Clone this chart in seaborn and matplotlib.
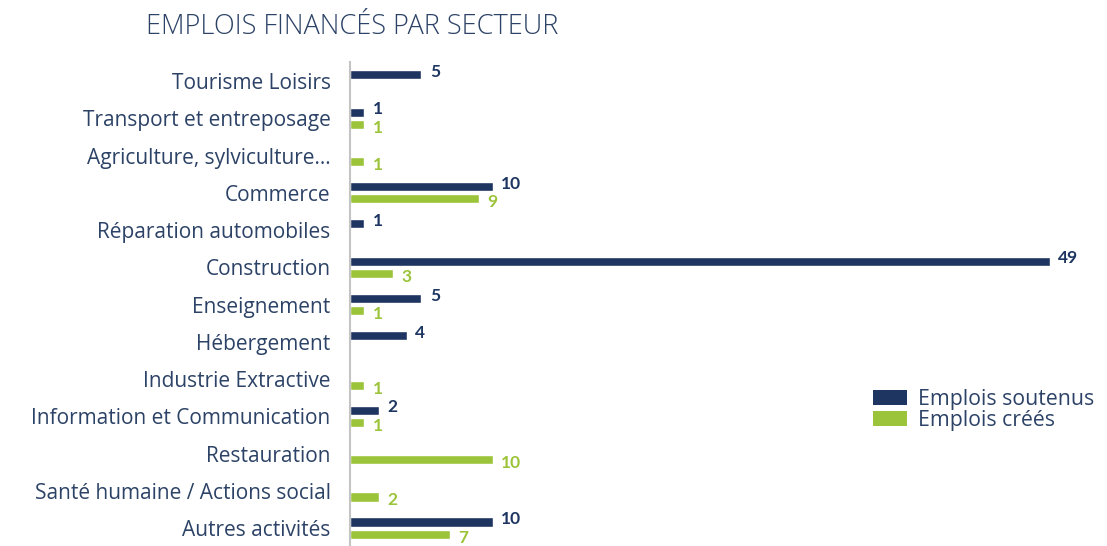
import numpy as np
import pandas as pd
import matplotlib
matplotlib.use("Agg")
import matplotlib.pyplot as plt
import seaborn as sns

categories = ["Tourisme Loisirs", "Transport et entreposage", "Agriculture, sylviculture...",
              "Commerce", "Réparation automobiles", "Construction", "Enseignement",
              "Hébergement", "Industrie Extractive", "Information et Communication",
              "Restauration", "Santé humaine / Actions social", "Autres activités"]
soutenus = [5, 1, np.nan, 10, 1, 49, 5, 4, np.nan, 2, np.nan, np.nan, 10]
crees = [np.nan, 1, 1, 9, np.nan, 3, 1, np.nan, 1, 1, 10, 2, 7]
series = ["Emplois soutenus", "Emplois créés"]

NAVY = "#1d3560"
GREEN = "#9cc43a"
TXT = "#2c4266"

sns.set_theme(style="white")
plt.rcParams['font.family'] = ['Open Sans', 'DejaVu Sans']

rows = []
for c, s, g in zip(categories, soutenus, crees):
    rows.append({"cat": c, "serie": series[0], "val": s})
    rows.append({"cat": c, "serie": series[1], "val": g})
df = pd.DataFrame(rows).dropna()

fig = plt.figure(figsize=(11.07, 5.46), dpi=100)
ax = fig.add_axes([350/1107, 0, 750/1107, 1 - 62/546])

sns.barplot(data=df, y="cat", x="val", hue="serie", order=categories, hue_order=series,
            palette=[NAVY, GREEN], orient="h", width=0.66, gap=0.26, ax=ax,
            legend=False, saturation=1, errorbar=None)

for cont, col, dy in zip(ax.containers, [NAVY, GREEN], [2.0, -2.5]):
    texts = ax.bar_label(cont, labels=[f"{v:g}" for v in cont.datavalues], padding=6,
                         color=col, fontsize=12.5, fontweight="bold",
                         family=["Lato", "DejaVu Sans"])
    for t in texts:
        t.xyann = (6, dy)

ax.set_xlim(0, 52.5)
ax.set_ylim(12.48, -0.51)
ax.set_xlabel("")
ax.set_ylabel("")
ax.set_xticks([])
for s in ["top", "right", "bottom"]:
    ax.spines[s].set_visible(False)
ax.spines["left"].set_color("#c4c4c4")
ax.spines["left"].set_linewidth(1.5)
ax.tick_params(axis="y", length=0, pad=14, labelsize=15, labelcolor=TXT)

fig.text(146/1107, 1 - 27/546, "EMPLOIS FINANCÉS PAR SECTEUR", fontsize=19.5, color=TXT,
         va="center", ha="left", fontweight="light")

from matplotlib.patches import Patch
handles = [Patch(facecolor=NAVY, edgecolor="none"), Patch(facecolor=GREEN, edgecolor="none")]
fig.legend(handles, series, loc="upper left", bbox_to_anchor=(873/1107, 1 - 389/546),
           frameon=False, fontsize=15.3, handlelength=1.6, handleheight=0.65,
           handletextpad=0.5, labelspacing=0.0, borderpad=0, borderaxespad=0,
           labelcolor=TXT)

fig.savefig("out.png", dpi=100)
